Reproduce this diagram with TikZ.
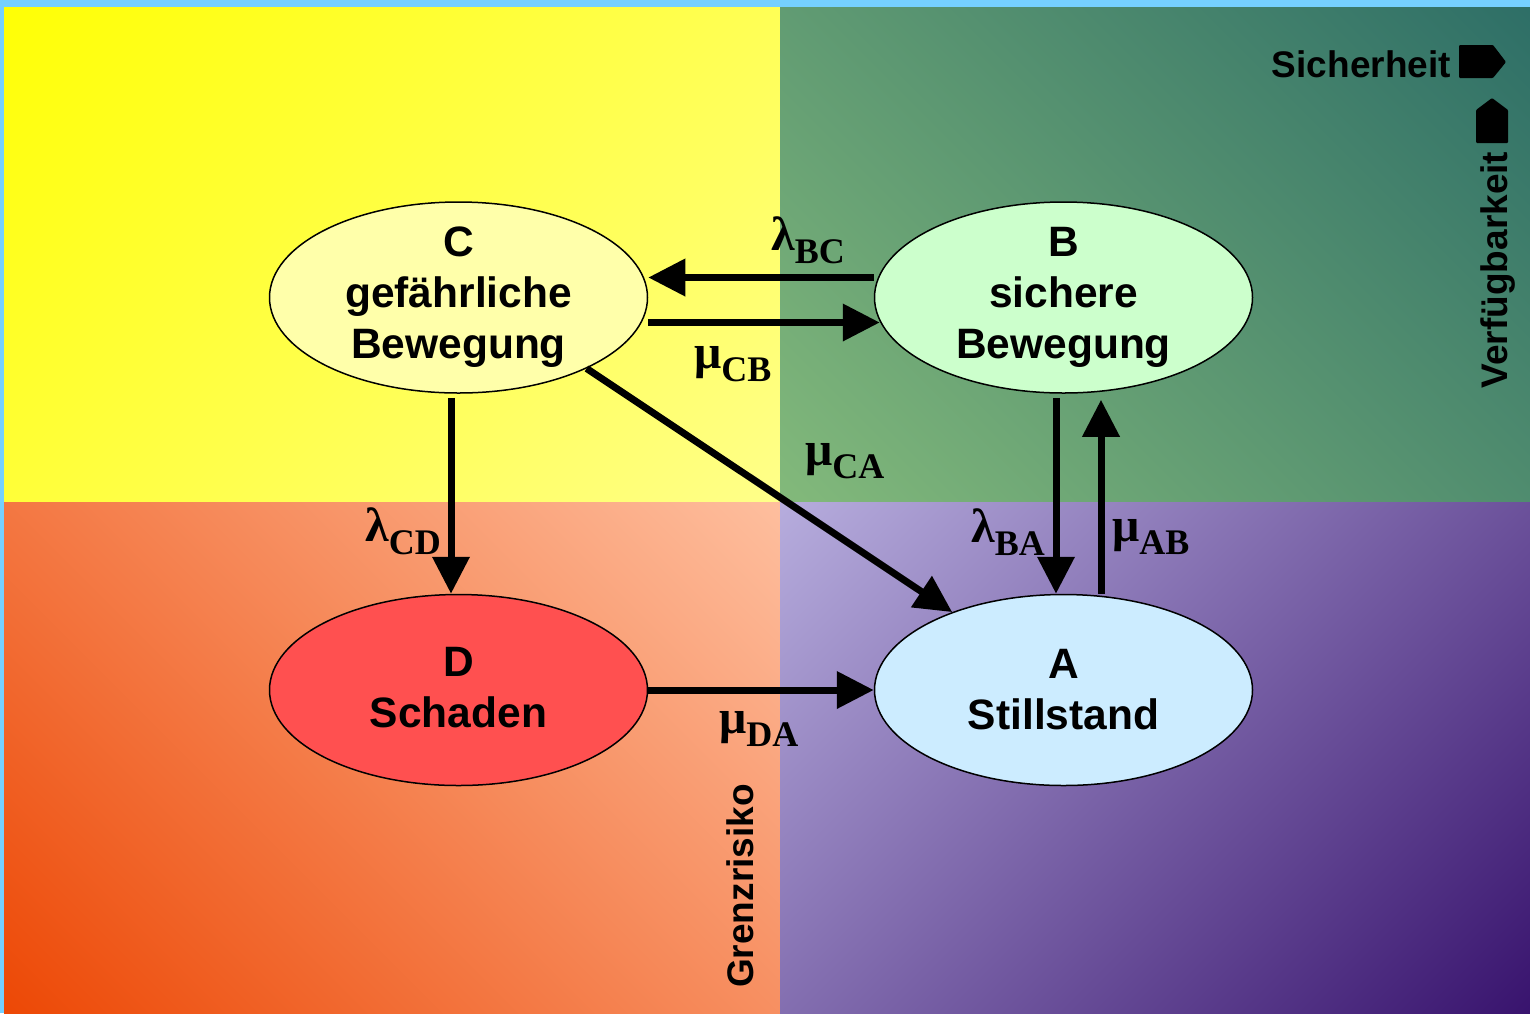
\documentclass[tikz,border=0pt]{standalone}
\usepackage{fontspec}
\setmainfont{Liberation Serif}
\setsansfont{Liberation Sans}
\usetikzlibrary{shapes.geometric,arrows.meta,calc}
\definecolor{bluebg}{HTML}{75D0FF}
\definecolor{tlA}{HTML}{FFFF00}
\definecolor{tlB}{HTML}{FFFF92}
\definecolor{trA}{HTML}{2B6C66}
\definecolor{trB}{HTML}{88BE7C}
\definecolor{blA}{HTML}{EC4400}
\definecolor{blB}{HTML}{FFC6A8}
\definecolor{brA}{HTML}{340E6A}
\definecolor{brB}{HTML}{BEB6E4}
\definecolor{cfill}{HTML}{FFFFAA}
\definecolor{bfill}{HTML}{CCFFCC}
\definecolor{dfill}{HTML}{FF5050}
\definecolor{afill}{HTML}{CCECFF}
\pgfdeclareverticalshading{tlshade}{100bp}{color(0bp)=(tlB); color(10bp)=(tlB); color(88bp)=(tlA); color(100bp)=(tlA)}
\pgfdeclareverticalshading{trshade}{100bp}{color(0bp)=(trB); color(10bp)=(trB); color(88bp)=(trA); color(100bp)=(trA)}
\pgfdeclareverticalshading{blshade}{100bp}{color(0bp)=(blB); color(10bp)=(blB); color(88bp)=(blA); color(100bp)=(blA)}
\pgfdeclareverticalshading{brshade}{100bp}{color(0bp)=(brB); color(10bp)=(brB); color(88bp)=(brA); color(100bp)=(brA)}
\newcommand\gsub[2]{{\fontsize{48}{48}\selectfont\bfseries #1}\raisebox{-13pt}{\fontsize{36}{36}\selectfont\bfseries #2}}
\tikzset{
  state/.style={ellipse, draw=black, line width=1.5pt, minimum width=378pt,
    minimum height=191pt, inner sep=0pt},
  stxt/.style={align=center, inner sep=0pt,
    font=\sffamily\bfseries\fontsize{42.5}{51}\selectfont},
  conn/.style={line width=7pt, -{Triangle[length=37pt,width=36pt]}},
  lab/.style={inner sep=0pt, anchor=base west},
  side/.style={inner sep=0pt, font=\sffamily\bfseries\fontsize{37}{37}\selectfont},
}
\begin{document}
\begin{tikzpicture}[x=1pt,y=-1pt]
\useasboundingbox (0,0) rectangle (1530,1013);
\fill[bluebg] (0,0) rectangle (1530,1013);
% quadrants
\shade[shading=tlshade, shading angle=45] (4,7) rectangle (780,502);
\shade[shading=trshade, shading angle=-45] (780,7) rectangle (1530,502);
\shade[shading=blshade, shading angle=135] (4,502) rectangle (780,1013);
\shade[shading=brshade, shading angle=-135] (780,502) rectangle (1530,1013);
% states
\node[state, fill=cfill, label={[stxt]center:{C\\gefährliche\\Bewegung}}] (C) at (458.5,297.5) {};
\node[state, fill=bfill, label={[stxt]center:{B\\sichere\\Bewegung}}] (B) at (1063.5,297.5) {};
\node[state, fill=dfill, label={[stxt, yshift=2pt]center:{D\\Schaden}}] (D) at (458.5,690) {};
\node[state, fill=afill, label={[stxt]center:{A\\Stillstand}}] (A) at (1063.5,690) {};
% connectors
\draw[conn, shorten >=-6pt] ([yshift=-25pt]C.east) -- ([yshift=-25pt]C.east -| B.west);
\draw[conn] ([yshift=20pt]B.west) -- ([yshift=20pt]B.west -| C.east);
\draw[conn, shorten <=4pt] ([xshift=-7.5pt]C.south) -- ([xshift=-7.5pt]C.south |- D.north);
\draw[conn, shorten <=4pt] ([xshift=-7.5pt]B.south) -- ([xshift=-7.5pt]B.south |- A.north);
\draw[conn, shorten >=6pt] ([xshift=37.5pt]A.north) -- ([xshift=37.5pt]A.north |- B.south);
\draw[conn] (C.-29) -- (A.145);
\draw[conn] (D.east) -- (D.east -| A.west);
% labels
\node[lab] (lBC) at (771,250) {\gsub{λ}{BC}};
\node[lab] (mCB) at (694,368) {\gsub{μ}{CB}};
\node[lab] (mCA) at (805,465) {\gsub{μ}{CA}};
\node[lab] (lCD) at (365,541) {\gsub{λ}{CD}};
\node[lab] (lBA) at (971,542) {\gsub{λ}{BA}};
\node[lab] (mAB) at (1112,541) {\gsub{μ}{AB}};
\node[lab] (mDA) at (719,733) {\gsub{μ}{DA}};
% side texts
\node[side, anchor=base east] (sich) at (1451,77) {Sicherheit};
\node[side, anchor=base, rotate=90] (verf) at (1507,270) {Verfügbarkeit};
\node[side, anchor=base, rotate=90] (grenz) at (753,886) {Grenzrisiko};
\fill[black, rounded corners=1pt] (1459,45) -- (1493,45) -- (1506,62) -- (1493,78) -- (1459,78) -- cycle;
\fill[black, rounded corners=1pt] (1476,143) -- (1476,110) -- (1492,98) -- (1508,110) -- (1508,143) -- cycle;
\end{tikzpicture}
\end{document}
